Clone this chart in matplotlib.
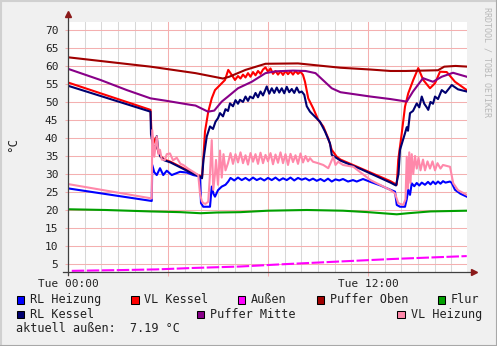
import numpy as np
import matplotlib
matplotlib.use("Agg")
import matplotlib.pyplot as plt
from matplotlib.patches import Rectangle
from matplotlib.lines import Line2D

# hours since Tue 00:00
h_rlh = [0, 3.35, 3.37, 3.45, 3.55, 3.68, 3.81, 3.95, 4.15, 4.48, 4.75, 5.01, 5.28, 5.32, 5.41, 5.68, 5.75, 5.82, 5.88, 6.0,
         6.15, 6.3, 6.41, 6.5, 6.65, 6.8, 6.95, 7.1, 7.25, 7.4, 7.55, 7.7, 7.85, 8.0, 8.15, 8.3, 8.45, 8.6, 8.75, 8.9,
         9.05, 9.2, 9.35, 9.5, 9.65, 9.8, 9.95, 10.1, 10.25, 10.4, 10.55, 10.7, 10.85, 11.0, 11.2, 11.4, 11.55, 11.8, 12.1, 12.5,
         12.9, 13.08, 13.15, 13.28, 13.48, 13.55, 13.61, 13.68, 13.75, 13.85, 13.95, 14.05, 14.15, 14.28, 14.4, 14.5, 14.6, 14.7, 14.8, 14.9,
         15.0, 15.1, 15.28, 15.35, 15.48, 15.7, 15.95]
rl_heizung = [26.0, 22.5, 32.5, 30.5, 29.7, 31.6, 29.7, 30.9, 29.7, 30.6, 30.4, 29.7, 29.3, 21.9, 20.9, 20.9, 26.5, 24.5, 23.7, 25.5,
              26.5, 27.0, 27.9, 28.9, 28.2, 29.0, 28.3, 28.9, 28.2, 29.0, 28.3, 28.8, 28.2, 28.9, 28.3, 29.0, 28.2, 28.8, 28.3, 29.0,
              28.2, 28.9, 28.4, 28.8, 28.2, 28.7, 28.1, 28.6, 28.0, 28.7, 27.9, 28.5, 28.2, 28.6, 27.9, 28.3, 27.9, 28.6, 27.8, 26.8,
              25.6, 25.1, 21.4, 20.9, 20.9, 23.0, 25.6, 24.2, 27.4, 26.6, 27.5, 26.8, 27.6, 27.0, 27.8, 27.1, 27.9, 27.2, 27.9, 27.3,
              28.0, 27.6, 27.9, 27.5, 25.6, 24.5, 23.7]

h_vlk = [0, 3.3, 3.34, 3.42, 3.5, 3.6, 3.7, 3.85, 4.1, 4.5, 4.9, 5.3, 5.36, 5.42, 5.48, 5.61, 5.75, 5.88, 6.08, 6.28,
         6.41, 6.55, 6.68, 6.8, 6.9, 7.0, 7.1, 7.2, 7.3, 7.4, 7.5, 7.6, 7.7, 7.8, 7.9, 8.0, 8.1, 8.2, 8.3, 8.4,
         8.5, 8.6, 8.7, 8.8, 8.9, 9.0, 9.1, 9.2, 9.3, 9.4, 9.48, 9.61, 9.81, 10.01, 10.21, 10.41, 10.55, 10.75, 10.9, 11.7,
         12.9, 13.15, 13.21, 13.35, 13.48, 13.61, 13.81, 14.01, 14.21, 14.48, 14.68, 14.88, 15.15, 15.48, 15.95]
vl_kessel = [55.4, 47.8, 41.5, 38.5, 40.0, 36.5, 35.0, 34.0, 33.4, 32.0, 30.6, 29.4, 29.0, 35.0, 41.8, 47.3, 51.0, 53.3, 54.7, 56.1,
             58.9, 57.5, 56.1, 57.2, 56.5, 57.6, 56.8, 58.0, 57.0, 58.3, 57.4, 58.6, 57.8, 59.0, 59.6, 58.4, 59.3, 57.8, 58.6, 57.6,
             58.5, 57.5, 58.6, 57.7, 58.5, 57.6, 58.6, 57.8, 58.4, 57.5, 55.6, 51.0, 48.2, 45.0, 43.2, 39.9, 36.7, 34.8, 34.0, 31.6,
             28.0, 27.0, 33.9, 41.3, 48.7, 52.4, 56.1, 59.4, 56.1, 53.8, 55.2, 58.4, 58.3, 55.6, 53.3]

h_aussen = [0.15, 2.0, 3.55, 5.0, 6.88, 8.5, 10.88, 13.0, 15.95]
aussen = [3.1, 3.3, 3.5, 3.9, 4.3, 4.9, 5.7, 6.4, 7.2]

h_po = [0, 3.3, 5.1, 6.2, 6.45, 7.1, 7.9, 9.2, 10.9, 12.1, 12.9, 13.5, 14.8, 15.05, 15.5, 16]
puffer_oben = [62.4, 59.8, 58.0, 56.5, 57.0, 58.9, 60.6, 60.7, 59.5, 59.0, 58.6, 58.6, 58.8, 59.8, 60.0, 59.8]

h_flur = [0, 1.5, 3.3, 4.5, 5.3, 5.95, 6.9, 8.0, 9.55, 11.0, 12.0, 13.15, 13.6, 14.5, 15.95]
flur = [20.2, 20.0, 19.6, 19.4, 19.1, 19.3, 19.4, 19.8, 20.0, 19.8, 19.4, 18.8, 19.1, 19.6, 19.8]

h_rlk = [0, 3.3, 3.32, 3.4, 3.5, 3.55, 3.62, 3.7, 3.85, 4.1, 4.5, 4.9, 5.3, 5.36, 5.42, 5.5, 5.55, 5.68, 5.8, 5.9,
         6.0, 6.08, 6.2, 6.3, 6.4, 6.48, 6.6, 6.7, 6.8, 6.88, 7.0, 7.1, 7.2, 7.28, 7.4, 7.5, 7.6, 7.7, 7.8, 7.95,
         8.05, 8.15, 8.25, 8.35, 8.45, 8.55, 8.65, 8.75, 8.85, 8.95, 9.05, 9.15, 9.25, 9.35, 9.45, 9.55, 9.68, 9.88, 10.08, 10.28,
         10.48, 10.55, 10.75, 10.9, 11.7, 12.9, 13.12, 13.22, 13.28, 13.48, 13.55, 13.6, 13.68, 13.8, 13.95, 14.05, 14.15, 14.25, 14.35, 14.41,
         14.5, 14.6, 14.68, 14.8, 14.95, 15.1, 15.35, 15.6, 15.95]
rl_kessel = [54.5, 47.3, 41.0, 38.0, 37.0, 40.5, 36.0, 34.8, 33.8, 33.2, 31.8, 30.4, 29.2, 28.8, 34.0, 38.0, 40.4, 43.2, 42.5, 44.5,
             45.5, 46.9, 46.0, 48.0, 47.5, 49.6, 48.8, 50.5, 49.5, 50.6, 50.0, 51.5, 50.3, 51.5, 51.0, 52.5, 51.3, 52.9, 51.8, 54.3,
             52.3, 53.8, 52.5, 54.0, 52.6, 53.8, 52.4, 54.2, 52.7, 53.6, 52.5, 54.0, 52.6, 52.9, 52.0, 48.8, 47.3, 45.9, 44.5, 41.8,
             38.5, 35.3, 34.4, 33.7, 31.4, 27.6, 26.8, 30.0, 36.7, 41.3, 43.0, 42.0, 46.9, 47.5, 49.6, 48.5, 51.5, 49.5, 48.5, 47.8,
             50.0, 49.5, 51.5, 50.8, 53.3, 52.5, 54.7, 53.5, 52.9]

h_pm = [0, 1.3, 2.35, 3.3, 3.95, 4.9, 5.1, 5.6, 5.85, 6.15, 6.4, 6.8, 7.35, 7.9, 8.3, 9.0, 9.5, 9.9, 10.55, 10.9,
        12.1, 12.9, 13.55, 13.8, 14.2, 14.6, 14.95, 15.4, 15.95]
puffer_mitte = [59.2, 56.1, 53.3, 51.0, 50.3, 49.2, 49.0, 47.3, 47.6, 50.1, 51.5, 53.8, 55.6, 58.0, 58.5, 58.7, 58.6, 58.0, 53.8, 52.7,
                51.5, 50.8, 50.1, 52.9, 56.6, 55.6, 57.0, 58.1, 57.0]

h_vlh = [0, 3.35, 3.37, 3.45, 3.55, 3.62, 3.68, 3.75, 3.88, 3.95, 4.08, 4.2, 4.35, 4.5, 4.61, 4.8, 5.01, 5.21, 5.28, 5.35,
         5.41, 5.5, 5.61, 5.68, 5.75, 5.81, 5.88, 5.92, 6.0, 6.08, 6.15, 6.22, 6.3, 6.4, 6.5, 6.6, 6.7, 6.8, 6.9, 7.0,
         7.1, 7.2, 7.3, 7.4, 7.5, 7.6, 7.7, 7.8, 7.9, 8.0, 8.1, 8.2, 8.3, 8.4, 8.5, 8.6, 8.7, 8.8, 8.9, 9.0,
         9.1, 9.2, 9.3, 9.4, 9.5, 9.6, 9.68, 9.8, 10.0, 10.21, 10.41, 10.5, 10.61, 10.7, 10.81, 11.0, 11.41, 12.1, 12.88, 13.08,
         13.21, 13.41, 13.5, 13.55, 13.6, 13.65, 13.7, 13.75, 13.81, 13.88, 13.95, 14.02, 14.1, 14.2, 14.28, 14.38, 14.48, 14.58, 14.68, 14.78,
         14.9, 15.0, 15.28, 15.41, 15.6, 15.95]
vl_heizung = [27.2, 23.2, 42.2, 34.8, 40.4, 35.5, 36.7, 34.0, 33.9, 35.5, 35.7, 33.8, 34.5, 32.8, 32.5, 31.5, 30.6, 29.7, 24.6, 22.5,
              21.9, 21.7, 22.3, 30.0, 39.4, 25.6, 30.0, 33.9, 27.0, 36.5, 29.0, 35.5, 31.0, 33.0, 35.8, 32.8, 35.5, 33.2, 36.0, 33.0,
              35.2, 32.6, 35.8, 33.4, 35.5, 32.8, 35.9, 33.0, 35.3, 33.5, 35.8, 32.7, 35.4, 33.1, 36.0, 33.0, 35.5, 32.5, 35.6, 33.3,
              35.2, 32.8, 35.7, 33.2, 35.0, 33.5, 34.4, 33.4, 33.0, 32.5, 31.6, 33.0, 34.8, 32.5, 33.4, 32.5, 32.0, 28.3, 25.6, 24.6,
              21.9, 21.4, 23.0, 34.8, 26.0, 36.0, 27.5, 35.5, 30.0, 35.0, 31.5, 34.5, 31.0, 34.0, 31.0, 33.5, 31.5, 33.5, 31.0, 33.0,
              31.5, 32.5, 32.0, 27.4, 25.5, 24.2]

aktuell_aussen = 7.19

series = [
    ("RL Heizung", h_rlh, rl_heizung, "#0000ff"),
    ("VL Kessel", h_vlk, vl_kessel, "#ff0000"),
    ("Außen", h_aussen, aussen, "#ff00ff"),
    ("Puffer Oben", h_po, puffer_oben, "#a00000"),
    ("Flur", h_flur, flur, "#00a000"),
    ("RL Kessel", h_rlk, rl_kessel, "#000070"),
    ("Puffer Mitte", h_pm, puffer_mitte, "#880088"),
    ("VL Heizung", h_vlh, vl_heizung, "#ff88aa"),
]

W, H = 497, 346
mono = "DejaVu Sans Mono"
plt.rcParams["font.family"] = mono

fig = plt.figure(figsize=(W / 100, H / 100), dpi=100, facecolor="#f0f0f0")
ax = fig.add_axes([68 / W, 74 / H, 399 / W, 250 / H])
ax.set_facecolor("white")

for i, (name, hx, vy, col) in enumerate(series):
    if name == "Außen":
        ax.plot(hx, vy, color=col, lw=1.5, ls=(0, (6, 1.2)), zorder=3 + i)
    else:
        ax.plot(hx, vy, color=col, lw=1.5, zorder=3 + i)

ax.set_xlim(0, 15.96)
ax.set_ylim(2.78, 72.2)

yticks = list(range(5, 75, 5))
major_x = [0, 4, 8, 12]
minor_x = [m for m in np.arange(0, 16, 2 / 3) if abs(m / 4 - round(m / 4)) > 0.01]

ax.set_yticks(yticks)
ax.set_xticks(major_x)
ax.set_xticklabels(["Tue 00:00", "", "", "Tue 12:00"])

red = "#f4b0b0"
gray = "#d8d8d8"
for m in minor_x:
    ax.axvline(m, color=gray, lw=0.75, zorder=0.5)
for m in major_x:
    ax.axvline(m, color=red, lw=0.75, zorder=1)
for t in yticks:
    ax.axhline(t, color=red, lw=0.75, zorder=1)

ax.tick_params(axis="y", length=2, width=0.75, color=red, pad=5, labelsize=8, labelcolor="#222222")
ax.tick_params(axis="x", length=3, width=0.75, color=red, pad=2, labelsize=8, labelcolor="#222222")

for s in ["top", "right", "left", "bottom"]:
    ax.spines[s].set_visible(False)

axcol = "#404040"
ax.plot([0, 0], [-0.01, 1.028], color=axcol, lw=0.9, transform=ax.transAxes, clip_on=False, zorder=20)
ax.plot([-0.012, 1.015], [0, 0], color=axcol, lw=0.9, transform=ax.transAxes, clip_on=False, zorder=20)
ax.plot([0], [1.03], marker="^", ms=4, color="#8b1a1a", transform=ax.transAxes, clip_on=False, zorder=21)
ax.plot([1.017], [0], marker=">", ms=4, color="#8b1a1a", transform=ax.transAxes, clip_on=False, zorder=21)

fig.text(13 / W, 1 - 145 / H, "°C", rotation=90, ha="center", va="center", fontsize=9, color="#222222")
fig.text(487 / W, 1 - 7 / H, "RRDTOOL / TOBI OETIKER", rotation=270, ha="center", va="top",
         fontsize=6, color="#b8b8b8")

# legend
legend_pos = [
    (16.5, 30, 303.3), (131, 144, 303.3), (237.5, 251, 303.3), (316.5, 330, 303.3), (437.5, 451, 303.3),
    (16.5, 30, 317.7), (196.7, 210, 317.7), (397.3, 411, 317.7),
]
for (name, hx, vy, col), (sx, tx, by) in zip(series, legend_pos):
    fig.patches.append(Rectangle((sx / W, 1 - (by + 0.5) / H), 7.5 / W, 7.5 / H, transform=fig.transFigure,
                                 facecolor=col, edgecolor="black", lw=0.75))
    fig.text(tx / W, 1 - by / H, name, ha="left", va="baseline", fontsize=8.5, color="#222222")

fig.text(16.5 / W, 1 - 331.7 / H, "aktuell außen:  %.2f °C" % aktuell_aussen, ha="left", va="baseline",
         fontsize=8.5, color="#222222")

# frame
fig.add_artist(Line2D([0, 1], [1 - 0.5 / H, 1 - 0.5 / H], transform=fig.transFigure, color="#d0d0d0", lw=1.5))
fig.add_artist(Line2D([0.5 / W, 0.5 / W], [0, 1], transform=fig.transFigure, color="#d0d0d0", lw=1.5))
fig.add_artist(Line2D([0, 1], [0.5 / H, 0.5 / H], transform=fig.transFigure, color="#a8a8a8", lw=1.5))
fig.add_artist(Line2D([1 - 0.5 / W, 1 - 0.5 / W], [0, 1], transform=fig.transFigure, color="#a8a8a8", lw=1.5))

fig.savefig("out.png", dpi=100, facecolor=fig.get_facecolor())
